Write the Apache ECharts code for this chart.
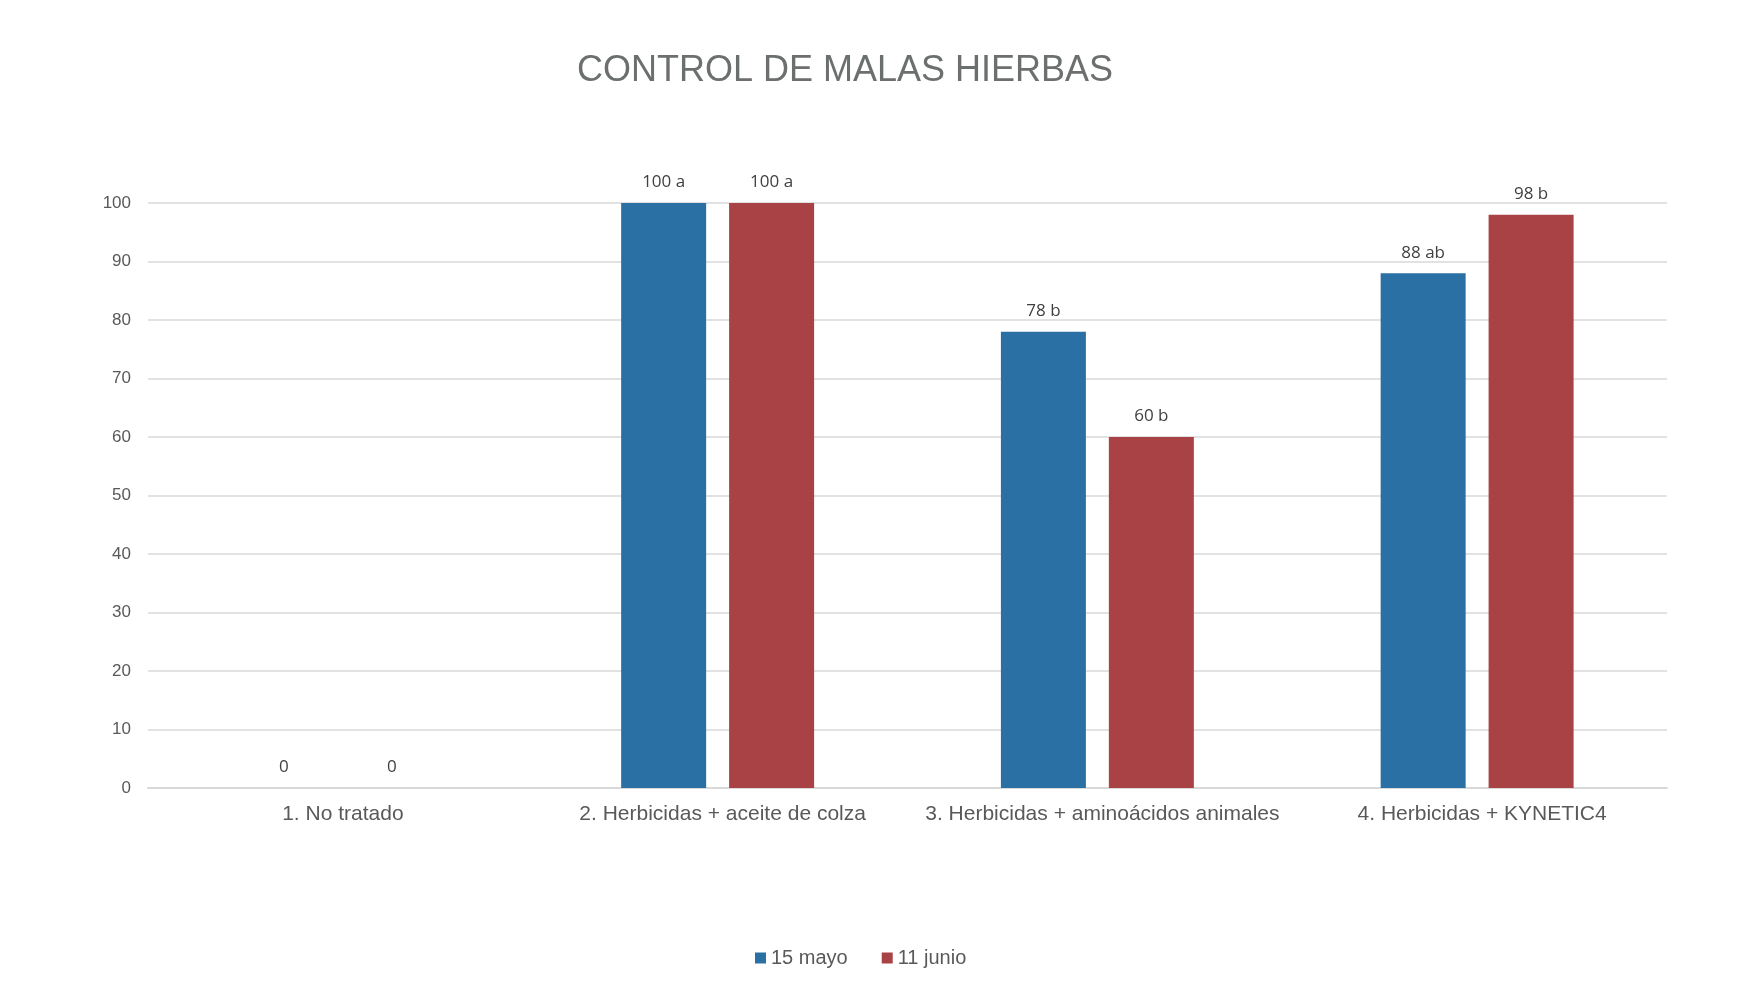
<!DOCTYPE html>
<html>
<head>
<meta charset="utf-8">
<script src="https://cdn.jsdelivr.net/npm/echarts@6/dist/echarts.min.js"></script>
<style>html,body{margin:0;padding:0;background:#fff}#c{width:1750px;height:1000px}</style>
</head>
<body>
<div id="c"></div>
<script>
const categories = ["1. No tratado", "2. Herbicidas + aceite de colza", "3. Herbicidas + aminoácidos animales", "4. Herbicidas + KYNETIC4"];
const seriesNames = ["15 mayo", "11 junio"];
const mayoValues = [0, 100, 78, 88];
const junioValues = [0, 100, 60, 98];
const mayoLetters = ["", "a", "b", "ab"];
const junioLetters = ["", "a", "b", "b"];
const yTicks = [0, 10, 20, 30, 40, 50, 60, 70, 80, 90, 100];

const chart = echarts.init(document.getElementById('c'));
function labelFor(letters) {
  return {
    show: true, position: 'top', distance: 12,
    fontFamily: 'Open Sans', fontSize: 17, color: '#404040',
    formatter: p => letters[p.dataIndex] ? p.value + ' ' + letters[p.dataIndex] : String(p.value)
  };
}
chart.setOption({
  animation: false,
  backgroundColor: '#ffffff',
  title: {
    text: 'CONTROL DE MALAS HIERBAS',
    left: 572, top: 48,
    textStyle: {fontFamily: 'Liberation Sans', fontSize: 36, fontWeight: 'normal', color: '#6b6f6e'}
  },
  legend: {
    data: seriesNames,
    left: 750, top: 943, itemWidth: 11, itemHeight: 11, itemGap: 34,
    icon: 'rect',
    textStyle: {fontFamily: 'Liberation Sans', fontSize: 20, color: '#595959'}
  },
  grid: {left: 148, right: 83, top: 203, bottom: 212, containLabel: false},
  xAxis: {
    type: 'category', data: categories,
    axisLine: {lineStyle: {color: '#d9d9d9', width: 2}},
    axisTick: {show: false},
    axisLabel: {interval: 0, margin: 16, fontFamily: 'Liberation Sans', fontSize: 21, color: '#595959', padding: [0, 0, 0, 10]}
  },
  yAxis: {
    type: 'value', min: 0, max: 100, interval: 10,
    axisLine: {show: false}, axisTick: {show: false},
    splitLine: {lineStyle: {color: '#d9d9d9', width: 1.5}},
    axisLabel: {margin: 17, fontFamily: 'Liberation Sans', fontSize: 17, color: '#595959',
      formatter: v => yTicks.includes(v) ? String(v) : ''}
  },
  series: [
    {name: seriesNames[0], type: 'bar', data: mayoValues, barWidth: 85, barGap: '27%',
     itemStyle: {color: '#2a70a5'}, label: labelFor(mayoLetters)},
    {name: seriesNames[1], type: 'bar', data: junioValues, barWidth: 85,
     itemStyle: {color: '#a84244'}, label: labelFor(junioLetters)}
  ]
});
</script>
</body>
</html>
